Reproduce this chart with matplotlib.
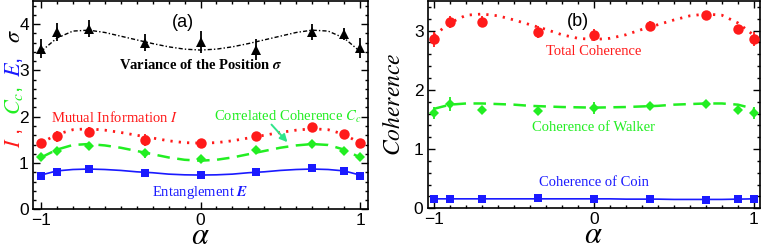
import matplotlib.pyplot as plt
import numpy as np
from matplotlib.ticker import MultipleLocator, FixedLocator

plt.rcParams['font.family'] = 'Liberation Sans'
plt.rcParams['mathtext.fontset'] = 'stix'

RED = '#ff1a1a'
GREEN = '#22ee22'
BLUE = '#1a1aff'

# measured points
alpha = [-1, -0.9, -0.7, -0.35, 0, 0.35, 0.7, 0.9, 1]

sigma = [3.47, 3.83, 3.90, 3.60, 3.62, 3.45, 3.83, 3.79, 3.48]
sigma_err = [0.21, 0.20, 0.18, 0.19, 0.24, 0.22, 0.18, 0.13, 0.21]
mutual = [1.44, 1.58, 1.68, 1.50, 1.44, 1.58, 1.77, 1.62, 1.44]
mutual_err = [0.03, 0.12, 0.10, 0.13, 0.03, 0.10, 0.05, 0.05, 0.03]
corr = [1.14, 1.27, 1.37, 1.21, 1.09, 1.29, 1.42, 1.27, 1.14]
corr_err = [0.04, 0.08, 0.05, 0.10, 0.04, 0.08, 0.04, 0.04, 0.04]
ent = [0.73, 0.81, 0.86, 0.78, 0.75, 0.81, 0.89, 0.82, 0.73]
ent_err = [0.04, 0.04, 0.04, 0.04, 0.04, 0.04, 0.04, 0.04, 0.04]

total = [2.85, 3.14, 3.15, 2.97, 2.92, 3.08, 3.27, 3.03, 2.86]
total_err = [0.12, 0.10, 0.09, 0.10, 0.10, 0.09, 0.05, 0.06, 0.12]
walker = [1.61, 1.76, 1.66, 1.64, 1.69, 1.72, 1.76, 1.66, 1.61]
walker_err = [0.10, 0.12, 0.07, 0.07, 0.10, 0.06, 0.05, 0.05, 0.10]
coin = [0.16, 0.16, 0.16, 0.17, 0.16, 0.15, 0.14, 0.15, 0.16]
coin_err = [0.03, 0.03, 0.03, 0.03, 0.03, 0.03, 0.03, 0.03, 0.03]

# theory curves, read every 0.1
curve_x = [-1.0, -0.9, -0.8, -0.7, -0.6, -0.5, -0.4, -0.3, -0.2, -0.1, 0.0,
           0.1, 0.2, 0.3, 0.4, 0.5, 0.6, 0.7, 0.8, 0.9, 1.0]
sigma_fit = [3.41, 3.70, 3.85, 3.87, 3.82, 3.74, 3.66, 3.58, 3.51, 3.46, 3.44,
             3.46, 3.51, 3.58, 3.66, 3.74, 3.82, 3.87, 3.85, 3.70, 3.41]
mutual_fit = [1.43, 1.62, 1.72, 1.74, 1.71, 1.66, 1.60, 1.54, 1.48, 1.44, 1.43,
              1.44, 1.48, 1.54, 1.60, 1.66, 1.71, 1.74, 1.72, 1.62, 1.43]
corr_fit = [1.12, 1.29, 1.39, 1.41, 1.38, 1.33, 1.26, 1.19, 1.12, 1.07, 1.05,
            1.07, 1.12, 1.19, 1.26, 1.33, 1.38, 1.41, 1.39, 1.29, 1.12]
ent_fit = [0.74, 0.83, 0.86, 0.87, 0.86, 0.84, 0.81, 0.79, 0.76, 0.745, 0.74,
           0.745, 0.76, 0.79, 0.81, 0.84, 0.86, 0.87, 0.86, 0.83, 0.74]
total_fit = [2.92, 3.13, 3.26, 3.28, 3.25, 3.18, 3.10, 3.02, 2.93, 2.87, 2.85,
             2.87, 2.93, 3.02, 3.10, 3.18, 3.25, 3.28, 3.26, 3.13, 2.92]
walker_fit = [1.68, 1.75, 1.77, 1.77, 1.76, 1.75, 1.73, 1.72, 1.71, 1.705, 1.70,
              1.705, 1.71, 1.72, 1.73, 1.75, 1.76, 1.77, 1.77, 1.75, 1.68]
coin_fit = [0.16, 0.16, 0.16, 0.16, 0.16, 0.16, 0.16, 0.16, 0.16, 0.16, 0.16,
            0.16, 0.155, 0.155, 0.155, 0.15, 0.15, 0.15, 0.15, 0.155, 0.16]

# pieces of the coloured y label in panel (a), bottom to top
ylab_parts = [r'$I$ ,', r'$C_c$,', r'$E$,', r'$\sigma$']
ylab_colors = ['#ff1a1a', '#22ee22', '#1a1aff', 'k']

fig = plt.figure(figsize=(7.63, 2.48), dpi=100)
ax1 = fig.add_axes([0.0433, 0.156, 0.4390, 0.840])
ax2 = fig.add_axes([0.5605, 0.160, 0.4351, 0.836])


def errpts(ax, y, e, color, marker, ms):
    ax.errorbar(alpha, y, yerr=e, fmt=marker, color=color, ms=ms, mew=0,
                elinewidth=1.3, capsize=2, capthick=1.3, zorder=3)


# panel (a)
ax1.plot(curve_x, sigma_fit, color='k', lw=1.0, ls=(0, (3, 1.5, 1, 1.5)))
ax1.plot(curve_x, mutual_fit, color=RED, lw=2.0, ls=(0, (0.8, 2.2)))
ax1.plot(curve_x, corr_fit, color=GREEN, lw=1.8, ls=(0, (5, 3)))
ax1.plot(curve_x, ent_fit, color=BLUE, lw=1.2)
errpts(ax1, sigma, sigma_err, 'k', '^', 7)
errpts(ax1, mutual, mutual_err, RED, 'o', 7.5)
errpts(ax1, corr, corr_err, GREEN, 'D', 5)
errpts(ax1, ent, ent_err, BLUE, 's', 6)

tfont = dict(family='Liberation Serif', fontsize=10.5, ha='center', va='center')
ax1.text(0, 3.12, r'Variance of the Position $\mathbfit{\sigma}$', color='k',
         fontweight='bold', **tfont)
ax1.text(-0.54, 1.99, r'Mutual Information $I$', color=RED, **tfont)
ax1.text(0.55, 1.99, r'Correlated Coherence $C_c$', color=GREEN, **tfont)
ax1.text(0.0, 0.37, r'Entanglement $\mathbfit{E}$', color=BLUE, **tfont)
ax1.annotate('', xy=(0.545, 1.45), xytext=(0.445, 1.83),
             arrowprops=dict(arrowstyle='-|>', color='#2fe58a', lw=1.4,
                             mutation_scale=11, shrinkA=0, shrinkB=0))
ax1.text(-0.11, 4.04, '(a)', fontsize=13, ha='center', va='center')
ax1.set_ylim(0, 4.5)
ax1.set_xlim(-1.05, 1.05)
ax1.yaxis.set_major_locator(MultipleLocator(1))
ax1.yaxis.set_minor_locator(MultipleLocator(0.2))

# panel (b)
ax2.plot(curve_x, total_fit, color=RED, lw=2.0, ls=(0, (0.8, 2.2)))
ax2.plot(curve_x, walker_fit, color=GREEN, lw=1.8, ls=(0, (5, 3)))
ax2.plot(curve_x, coin_fit, color=BLUE, lw=1.2)
errpts(ax2, total, total_err, RED, 'o', 7.5)
errpts(ax2, walker, walker_err, GREEN, 'D', 5)
errpts(ax2, coin, coin_err, BLUE, 's', 6)
ax2.text(0, 2.64, 'Total Coherence', color=RED, **tfont)
ax2.text(0, 1.37, 'Coherence of Walker', color=GREEN, **tfont)
ax2.text(0, 0.43, 'Coherence of Coin', color=BLUE, **tfont)
ax2.text(-0.10, 3.16, '(b)', fontsize=13, ha='center', va='center')
ax2.set_ylim(0, 3.5)
ax2.set_xlim(-1.04, 1.036)
ax2.yaxis.set_major_locator(MultipleLocator(1))
ax2.yaxis.set_minor_locator(MultipleLocator(0.2))
ax2.set_ylabel(r'$Coherence$', fontsize=17, labelpad=6)

for ax in (ax1, ax2):
    ax.xaxis.set_major_locator(FixedLocator([-1, 0, 1]))
    ax.xaxis.set_minor_locator(MultipleLocator(0.1))
    ax.tick_params(which='both', direction='in', top=True, right=True,
                   width=1.0, labelsize=12.5, pad=3)
    ax.tick_params(which='major', length=5)
    ax.tick_params(which='minor', length=2.5)
    for s in ax.spines.values():
        s.set_linewidth(1.2)
    ax.text(0.5, -0.128, r'$\alpha$', fontsize=22, ha='center', va='center',
            transform=ax.transAxes)

# start of each piece along the label (figure fraction)
ylab_start = [0.405, 0.535, 0.69, 0.825]
for s, c, y0 in zip(ylab_parts, ylab_colors, ylab_start):
    fig.text(0.026, y0, s, color=c, fontsize=16, rotation=90,
             rotation_mode='anchor', ha='left', va='baseline')

fig.savefig('out.png', dpi=100)
